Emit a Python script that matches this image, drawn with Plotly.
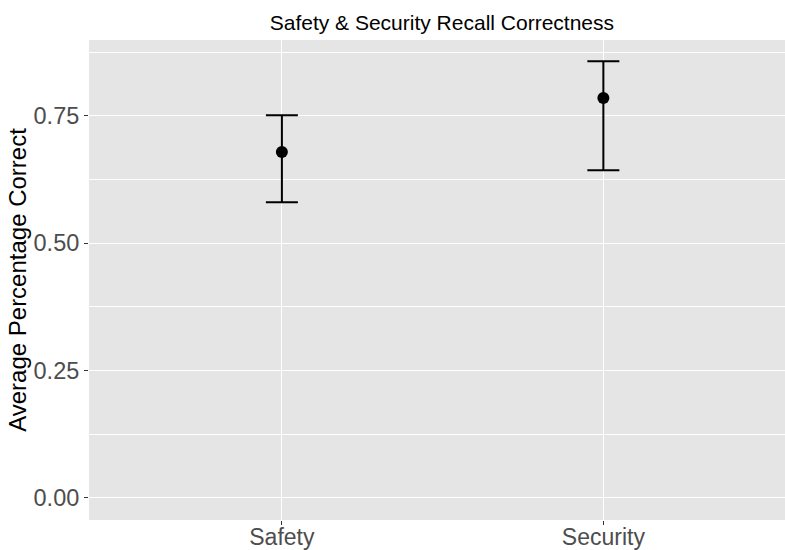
import plotly.graph_objects as go

# Recall correctness by condition: mean with lower/upper interval bounds
categories = ["Safety", "Security"]
means = [0.679, 0.785]
upper = [0.751, 0.857]
lower = [0.580, 0.643]

y_ticks = [0.0, 0.25, 0.5, 0.75]
y_minor = [0.125, 0.375, 0.625, 0.875]

err_plus = [u - m for u, m in zip(upper, means)]
err_minus = [m - l for m, l in zip(means, lower)]
x_pos = [1, 2]

fig = go.Figure()
fig.add_trace(go.Scatter(
    x=x_pos,
    y=means,
    mode="markers",
    marker=dict(color="black", size=12),
    error_y=dict(
        type="data",
        symmetric=False,
        array=err_plus,
        arrayminus=err_minus,
        color="black",
        thickness=2,
        width=16,
    ),
    showlegend=False,
))

font_family = "Liberation Sans, Arial, Helvetica, sans-serif"

fig.update_layout(
    width=785,
    height=550,
    margin=dict(l=89, r=0, t=40, b=30),
    paper_bgcolor="white",
    plot_bgcolor="#E5E5E5",
    font=dict(family=font_family),
    title=dict(
        text="Safety & Security Recall Correctness",
        x=0.507,
        xref="paper",
        xanchor="center",
        y=0.958,
        yref="container",
        yanchor="middle",
        font=dict(size=21, color="black"),
    ),
    xaxis=dict(
        range=[0.4, 2.565],
        tickmode="array",
        tickvals=x_pos,
        ticktext=categories,
        showgrid=True,
        gridcolor="white",
        gridwidth=1.2,
        zeroline=False,
        ticks="outside",
        ticklen=4,
        tickcolor="#333333",
        tickfont=dict(size=23, color="#4D4D4D"),
        ticklabelstandoff=-8,
        showline=False,
        automargin=False,
    ),
    yaxis=dict(
        range=[-0.0438, 0.8987],
        tickmode="array",
        tickvals=y_ticks,
        tickformat=".2f",
        showgrid=True,
        gridcolor="white",
        gridwidth=1.2,
        zeroline=False,
        ticks="outside",
        ticklen=4,
        tickcolor="#333333",
        tickfont=dict(size=23.5, color="#4D4D4D"),
        title=dict(text="Average Percentage Correct", font=dict(size=24, color="black"), standoff=0),
        minor=dict(
            tickmode="array",
            tickvals=y_minor,
            showgrid=True,
            gridcolor="white",
            gridwidth=0.6,
        ),
        showline=False,
        automargin=False,
    ),
)

fig.write_html("out.html")
